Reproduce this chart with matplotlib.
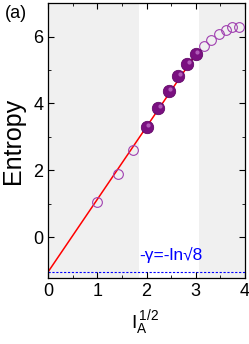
import numpy as np
import matplotlib.pyplot as plt

# data
x_open_lo = [1.0, 1.414, 1.732]
y_open_lo = [1.05, 1.90, 2.62]
x_full = [2.0, 2.236, 2.449, 2.646, 2.828, 3.0]
y_full = [3.28, 3.87, 4.37, 4.81, 5.18, 5.49]
x_open_hi = [3.162, 3.317, 3.464, 3.606, 3.742, 3.873]
y_open_hi = [5.73, 5.90, 6.07, 6.20, 6.28, 6.30]
gamma = np.log(np.sqrt(8))
fit_x = [0, 3.02]
slope = 2.17
gray_spans = [(0, 1.85), (3.07, 4)]

plt.rcParams['font.family'] = ['Liberation Sans', 'DejaVu Sans']
W, H = 249, 344
fig = plt.figure(figsize=(W / 100, H / 100), dpi=100)
ax = fig.add_axes([0.193, 0.192, 0.791, 0.799])

for a, b in gray_spans:
    ax.axvspan(a, b, color='#f0f0f0', zorder=0, lw=0)

ax.axhline(-gamma, color='blue', ls=(0, (2, 1.5)), lw=0.8, zorder=1)
ax.plot(fit_x, [-gamma + slope * v for v in fit_x], color='red', lw=1.1, zorder=2)

ax.plot(x_open_lo + x_open_hi, y_open_lo + y_open_hi, 'o', ms=7, mfc='none',
        mec='#a040b0', mew=0.8, ls='none', zorder=3)
ax.plot(x_full, y_full, 'o', ms=9, mfc='#7a1080', mec='#5a0060', mew=0.5, zorder=4)
ax.plot(np.array(x_full) + 0.03, np.array(y_full) + 0.06, 'o', ms=3, mfc='#c070c8',
        mec='none', alpha=0.8, zorder=5)

ax.text(1.85, -0.54, '-γ=-ln√8', color='blue', fontsize=12.5,
        ha='left', va='center')

ax.set_xlim(0, 4)
ax.set_ylim(-1.22, 7)
ax.set_xticks([0, 1, 2, 3, 4])
ax.set_xticks(np.arange(0.5, 4, 1), minor=True)
ax.set_yticks([0, 2, 4, 6])
ax.set_yticks([1, 3, 5], minor=True)
ax.tick_params(which='both', direction='in', top=True, right=True, labelsize=13)
ax.tick_params(which='major', length=4)
ax.tick_params(which='minor', length=2.5)
for s in ax.spines.values():
    s.set_linewidth(0.9)

ax.set_ylabel('Entropy', fontsize=18, labelpad=6)
# x label: I with subscript A and superscript 1/2
fig.text(131 / W, 1 - 328 / H, r'$\mathregular{I_A^{\,1/2}}$', fontsize=14,
         ha='left', va='baseline')
fig.text(0.02, 0.985, '(a)', fontsize=13, va='top', ha='left')

fig.savefig('out.png', dpi=100)
